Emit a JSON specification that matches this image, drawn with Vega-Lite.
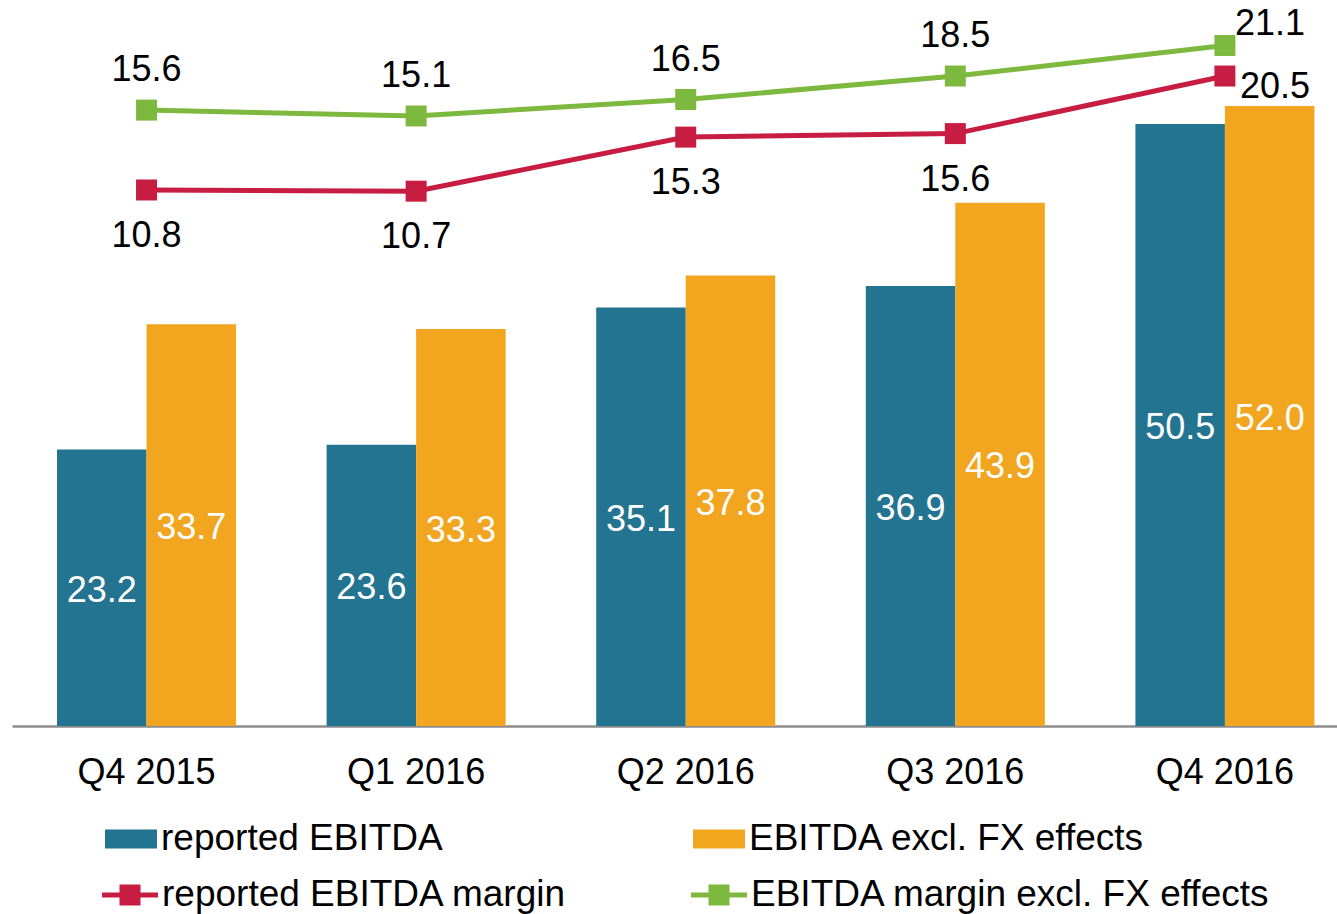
{
  "$schema": "https://vega.github.io/schema/vega-lite/v6.json",
  "width": 1325,
  "height": 726,
  "autosize": {"type": "none"},
  "padding": {"left": 12, "top": 0, "right": 0, "bottom": 188},
  "background": "white",
  "config": {"view": {"stroke": null}, "font": "Liberation Sans"},
  "datasets": {
    "ebitda": [
      {"quarter": "Q4 2015", "series": "reported EBITDA", "value": 23.2},
      {"quarter": "Q4 2015", "series": "EBITDA excl. FX effects", "value": 33.7},
      {"quarter": "Q1 2016", "series": "reported EBITDA", "value": 23.6},
      {"quarter": "Q1 2016", "series": "EBITDA excl. FX effects", "value": 33.3},
      {"quarter": "Q2 2016", "series": "reported EBITDA", "value": 35.1},
      {"quarter": "Q2 2016", "series": "EBITDA excl. FX effects", "value": 37.8},
      {"quarter": "Q3 2016", "series": "reported EBITDA", "value": 36.9},
      {"quarter": "Q3 2016", "series": "EBITDA excl. FX effects", "value": 43.9},
      {"quarter": "Q4 2016", "series": "reported EBITDA", "value": 50.5},
      {"quarter": "Q4 2016", "series": "EBITDA excl. FX effects", "value": 52.0}
    ],
    "margin": [
      {"quarter": "Q4 2015", "series": "reported EBITDA margin", "value": 10.8},
      {"quarter": "Q1 2016", "series": "reported EBITDA margin", "value": 10.7},
      {"quarter": "Q2 2016", "series": "reported EBITDA margin", "value": 15.3},
      {"quarter": "Q3 2016", "series": "reported EBITDA margin", "value": 15.6},
      {"quarter": "Q4 2016", "series": "reported EBITDA margin", "value": 20.5},
      {"quarter": "Q4 2015", "series": "EBITDA margin excl. FX effects", "value": 15.6},
      {"quarter": "Q1 2016", "series": "EBITDA margin excl. FX effects", "value": 15.1},
      {"quarter": "Q2 2016", "series": "EBITDA margin excl. FX effects", "value": 16.5},
      {"quarter": "Q3 2016", "series": "EBITDA margin excl. FX effects", "value": 18.5},
      {"quarter": "Q4 2016", "series": "EBITDA margin excl. FX effects", "value": 21.1}
    ]
  },
  "resolve": {"scale": {"y": "independent"}},
  "layer": [
    {
      "data": {"name": "ebitda"},
      "mark": {"type": "bar"},
      "encoding": {
        "x": {"field": "quarter", "type": "nominal", "sort": ["Q4 2015", "Q1 2016", "Q2 2016", "Q3 2016", "Q4 2016"],
              "scale": {"paddingInner": 0.336, "paddingOuter": 0.1254, "align": 0.666},
              "axis": {"title": null, "ticks": false, "grid": false, "domainColor": "#8c8c8c", "domainWidth": 2.5, "labelFontSize": 36, "labelFont": "Liberation Sans", "labelColor": "#000000", "labelPadding": 29, "labelAngle": 0}},
        "xOffset": {"field": "series", "type": "nominal", "sort": ["reported EBITDA", "EBITDA excl. FX effects"], "scale": {"paddingInner": 0, "paddingOuter": 0}},
        "y": {"field": "value", "type": "quantitative", "scale": {"domain": [0, 60.9], "nice": false}, "axis": null},
        "fill": {"field": "series", "type": "nominal",
                 "scale": {"domain": ["reported EBITDA", "EBITDA excl. FX effects"], "range": ["#237491", "#F2A51F"]},
                 "legend": {"title": null, "orient": "none", "legendX": 93, "legendY": 813, "direction": "horizontal", "columns": 2, "columnPadding": 250,
                            "symbolType": "M-1,-0.365L1,-0.365L1,0.365L-1,0.365Z", "symbolSize": 2704, "symbolStrokeWidth": 0,
                            "labelFontSize": 37, "labelFont": "Liberation Sans", "labelColor": "#000000", "labelOffset": 4, "labelLimit": 0}}
      }
    },
    {
      "data": {"name": "ebitda"},
      "mark": {"type": "text", "color": "white", "fontSize": 36, "font": "Liberation Sans", "baseline": "middle", "align": "center", "dy": 3},
      "encoding": {
        "x": {"field": "quarter", "type": "nominal", "sort": ["Q4 2015", "Q1 2016", "Q2 2016", "Q3 2016", "Q4 2016"],
              "scale": {"paddingInner": 0.336, "paddingOuter": 0.1254, "align": 0.666},
              "axis": {"title": null, "ticks": false, "grid": false, "domainColor": "#8c8c8c", "domainWidth": 2.5, "labelFontSize": 36, "labelFont": "Liberation Sans", "labelColor": "#000000", "labelPadding": 29, "labelAngle": 0}},
        "xOffset": {"field": "series", "type": "nominal", "sort": ["reported EBITDA", "EBITDA excl. FX effects"], "scale": {"paddingInner": 0, "paddingOuter": 0}},
        "y": {"field": "value", "type": "quantitative", "scale": {"domain": [0, 121.8], "nice": false}, "axis": null},
        "text": {"field": "value", "type": "quantitative", "format": ".1f"}
      }
    },
    {
      "data": {"name": "margin"},
      "transform": [{"filter": "datum.series === 'reported EBITDA margin'"}],
      "encoding": {
        "x": {"field": "quarter", "type": "nominal", "sort": ["Q4 2015", "Q1 2016", "Q2 2016", "Q3 2016", "Q4 2016"],
              "scale": {"paddingInner": 0.336, "paddingOuter": 0.1254, "align": 0.666},
              "axis": {"title": null, "ticks": false, "grid": false, "domainColor": "#8c8c8c", "domainWidth": 2.5, "labelFontSize": 36, "labelFont": "Liberation Sans", "labelColor": "#000000", "labelPadding": 29, "labelAngle": 0}},
        "y": {"field": "value", "type": "quantitative", "scale": {"domain": [-34.82, 26.97], "nice": false, "zero": false}, "axis": null}
      },
      "layer": [
        {
          "mark": {"type": "line", "strokeWidth": 5, "point": {"shape": "square", "size": 441, "filled": true, "opacity": 1}},
          "encoding": {
            "color": {"field": "series", "type": "nominal",
                      "scale": {"domain": ["reported EBITDA margin", "EBITDA margin excl. FX effects"], "range": ["#C81D42", "#7DB93E"]},
                      "legend": {"title": null, "orient": "none", "legendX": 90, "legendY": 867, "direction": "horizontal", "columns": 2, "columnPadding": 123,
                                 "symbolType": "M-1,-0.09L-0.375,-0.09L-0.375,-0.375L0.375,-0.375L0.375,-0.09L1,-0.09L1,0.09L0.375,0.09L0.375,0.375L-0.375,0.375L-0.375,0.09L-1,0.09Z",
                                 "symbolSize": 3136, "symbolStrokeWidth": 0,
                                 "labelFontSize": 37, "labelFont": "Liberation Sans", "labelColor": "#000000", "labelOffset": 4, "labelLimit": 0,
                                 "encode": {"symbols": {"update": {"fill": {"scale": "color", "field": "value"}, "opacity": {"value": 1}, "fillOpacity": {"value": 1}}}}}}
          }
        },
        {
          "transform": [{"filter": "datum.quarter !== 'Q4 2016'"}],
          "mark": {"type": "text", "color": "black", "fontSize": 36, "font": "Liberation Sans", "baseline": "middle", "align": "center", "dy": 46},
          "encoding": {"text": {"field": "value", "type": "quantitative", "format": ".1f"}}
        },
        {
          "transform": [{"filter": "datum.quarter === 'Q4 2016'"}],
          "mark": {"type": "text", "color": "black", "fontSize": 36, "font": "Liberation Sans", "baseline": "middle", "align": "center", "dy": 11, "dx": 50},
          "encoding": {"text": {"field": "value", "type": "quantitative", "format": ".1f"}}
        }
      ]
    },
    {
      "data": {"name": "margin"},
      "transform": [{"filter": "datum.series === 'EBITDA margin excl. FX effects'"}],
      "encoding": {
        "x": {"field": "quarter", "type": "nominal", "sort": ["Q4 2015", "Q1 2016", "Q2 2016", "Q3 2016", "Q4 2016"],
              "scale": {"paddingInner": 0.336, "paddingOuter": 0.1254, "align": 0.666},
              "axis": {"title": null, "ticks": false, "grid": false, "domainColor": "#8c8c8c", "domainWidth": 2.5, "labelFontSize": 36, "labelFont": "Liberation Sans", "labelColor": "#000000", "labelPadding": 29, "labelAngle": 0}},
        "y": {"field": "value", "type": "quantitative", "scale": {"domain": [-36.82, 24.97], "nice": false, "zero": false}, "axis": null}
      },
      "layer": [
        {
          "mark": {"type": "line", "strokeWidth": 5, "point": {"shape": "square", "size": 441, "filled": true, "opacity": 1}},
          "encoding": {
            "color": {"field": "series", "type": "nominal",
                      "scale": {"domain": ["reported EBITDA margin", "EBITDA margin excl. FX effects"], "range": ["#C81D42", "#7DB93E"]}}
          }
        },
        {
          "transform": [{"filter": "datum.quarter !== 'Q4 2016'"}],
          "mark": {"type": "text", "color": "black", "fontSize": 36, "font": "Liberation Sans", "baseline": "middle", "align": "center", "dy": -40},
          "encoding": {"text": {"field": "value", "type": "quantitative", "format": ".1f"}}
        },
        {
          "transform": [{"filter": "datum.quarter === 'Q4 2016'"}],
          "mark": {"type": "text", "color": "black", "fontSize": 36, "font": "Liberation Sans", "baseline": "middle", "align": "center", "dy": -21, "dx": 45},
          "encoding": {"text": {"field": "value", "type": "quantitative", "format": ".1f"}}
        }
      ]
    }
  ]
}
